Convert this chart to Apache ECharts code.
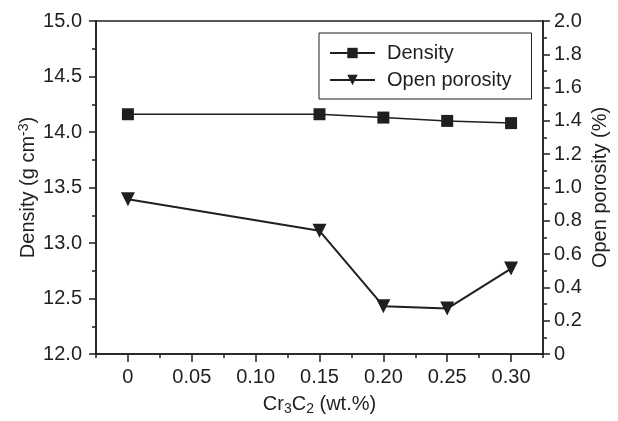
<!DOCTYPE html>
<html lang="en">
<head>
    <meta charset="UTF-8">
    <title>Density and open porosity</title>
    <script src="https://cdn.jsdelivr.net/npm/echarts@6.0.0/dist/echarts.min.js"></script>
    <style>
        html, body { margin: 0; padding: 0; background: #fff; }
        #chart { width: 618px; height: 421px; }
    </style>
</head>
<body>
    <div id="chart"></div>
    <script>
        // data
        const cr3c2 = [0, 0.15, 0.20, 0.25, 0.30];
        const density = [14.16, 14.16, 14.13, 14.10, 14.08];
        const openPorosity = [0.93, 0.74, 0.287, 0.273, 0.513];
        const majorXTicks = [0, 0.05, 0.10, 0.15, 0.20, 0.25, 0.30];

        const ink = '#1f1f1f';
        const font = 'Liberation Sans, Arial, sans-serif';

        function pairs(xs, ys) {
            return xs.map((x, i) => [x, ys[i]]);
        }

        const chart = echarts.init(document.getElementById('chart'));
        chart.setOption({
            animation: false,
            textStyle: { fontFamily: font, color: ink },
            grid: {
                left: 96, top: 21, right: 75, bottom: 67,
                outerBoundsMode: 'none',
                containLabel: false,
                show: true, borderColor: ink, borderWidth: 1.5
            },
            legend: {
                orient: 'vertical',
                left: 319, top: 33,
                padding: [10, 20, 9, 10],
                itemGap: 7,
                itemWidth: 45, itemHeight: 13,
                borderColor: ink, borderWidth: 1,
                textStyle: { fontSize: 20, color: ink, padding: [0, 0, 0, 7] },
                data: ['Density', 'Open porosity']
            },
            xAxis: [
                {
                    type: 'value',
                    min: -0.025, max: 0.325, interval: 0.025,
                    splitLine: { show: false },
                    axisLine: { lineStyle: { color: ink, width: 1.5 } },
                    axisTick: { length: 4, lineStyle: { color: ink, width: 1.5 } },
                    axisLabel: {
                        fontSize: 20, color: ink, margin: 13,
                        formatter: function (v) {
                            const k = Math.round(v * 1000);
                            if (k < 0 || k % 50 !== 0) return '';
                            return k === 0 ? '0' : (k / 1000).toFixed(2);
                        }
                    },
                    name: '{a|Cr}{s|3}{a|C}{s|2}{a| (wt.%)}',
                    nameLocation: 'middle',
                    nameGap: 39,
                    nameMoveOverlap: false,
                    nameTextStyle: {
                        rich: {
                            a: { fontSize: 20, color: ink, fontFamily: font },
                            s: { fontSize: 14, color: ink, fontFamily: font, padding: [9, 0, 0, 0] }
                        }
                    }
                },
                {
                    type: 'value',
                    position: 'bottom',
                    min: -0.025, max: 0.325,
                    splitLine: { show: false },
                    axisLine: { show: false },
                    axisLabel: { show: false },
                    axisTick: {
                        length: 8,
                        customValues: majorXTicks,
                        lineStyle: { color: ink, width: 1.5 }
                    }
                }
            ],
            yAxis: [
                {
                    type: 'value',
                    min: 12, max: 15, interval: 0.5,
                    splitLine: { show: false },
                    axisLine: { show: true, onZero: false, lineStyle: { color: ink, width: 1.5 } },
                    axisTick: { length: 7, lineStyle: { color: ink, width: 1.5 } },
                    minorTick: { show: true, splitNumber: 2, length: 4, lineStyle: { color: ink, width: 1.5 } },
                    axisLabel: {
                        fontSize: 20, color: ink, margin: 14,
                        formatter: v => v.toFixed(1)
                    },
                    name: '{a|Density (g cm}{s|-3}{a|)}',
                    nameLocation: 'middle',
                    nameRotate: 90,
                    nameGap: 56,
                    nameMoveOverlap: false,
                    nameTextStyle: {
                        rich: {
                            a: { fontSize: 20, color: ink, fontFamily: font },
                            s: { fontSize: 14, color: ink, fontFamily: font, padding: [0, 0, 9, 0] }
                        }
                    }
                },
                {
                    type: 'value',
                    position: 'right',
                    min: 0, max: 2, interval: 0.2,
                    splitLine: { show: false },
                    axisLine: { show: true, onZero: false, lineStyle: { color: ink, width: 1.5 } },
                    axisTick: { length: 7, lineStyle: { color: ink, width: 1.5 } },
                    minorTick: { show: true, splitNumber: 2, length: 4, lineStyle: { color: ink, width: 1.5 } },
                    axisLabel: {
                        fontSize: 20, color: ink, margin: 11,
                        formatter: v => (v === 0 ? '0' : v.toFixed(1))
                    },
                    name: 'Open porosity (%)',
                    nameLocation: 'middle',
                    nameRotate: 90,
                    nameGap: 47,
                    nameMoveOverlap: false,
                    nameTextStyle: { fontSize: 20, color: ink }
                }
            ],
            series: [
                {
                    name: 'Density',
                    type: 'line',
                    yAxisIndex: 0,
                    data: pairs(cr3c2, density),
                    symbol: 'rect',
                    symbolSize: 12,
                    itemStyle: { color: ink },
                    lineStyle: { color: ink, width: 1.5 }
                },
                {
                    name: 'Open porosity',
                    type: 'line',
                    yAxisIndex: 1,
                    data: pairs(cr3c2, openPorosity),
                    symbol: 'triangle',
                    symbolRotate: 180,
                    symbolSize: 14,
                    itemStyle: { color: ink },
                    lineStyle: { color: ink, width: 2 }
                }
            ]
        });
    </script>
</body>
</html>
